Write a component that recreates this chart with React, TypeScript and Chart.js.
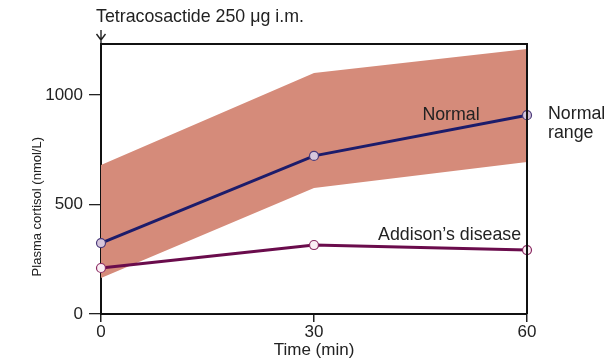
import React, { useEffect, useRef } from "react";
import { Chart, registerables } from "chart.js";

Chart.register(...registerables);

const times = [0, 30, 60];
const normalMean = [324, 722, 908];
const normalUpper = [680, 1100, 1210];
const normalLower = [164, 575, 694];
const addison = [210, 315, 292];
const yTicks = [0, 500, 1000];
const xTicks = [0, 30, 60];

const FONT = "'Liberation Sans', Arial, sans-serif";
const TEXT = "#222";
const FS = 17;
const NOTE_FS = 17.8;

const boxPlugin = {
  id: "boxAndNotes",
  afterDraw(chart: any) {
    const { ctx, chartArea: a, scales } = chart;
    const xs = scales.x;
    const ys = scales.y;
    ctx.save();
    // top & right borders
    ctx.strokeStyle = "#111";
    ctx.lineWidth = 2;
    ctx.beginPath();
    ctx.moveTo(a.left, a.top);
    ctx.lineTo(a.right, a.top);
    ctx.lineTo(a.right, a.bottom);
    ctx.stroke();

    // annotation arrow
    const x0 = xs.getPixelForValue(0);
    ctx.lineWidth = 1.4;
    ctx.strokeStyle = "#222";
    ctx.beginPath();
    ctx.moveTo(x0, a.top - 14);
    ctx.lineTo(x0, a.top - 1);
    ctx.moveTo(x0 - 4.5, a.top - 10);
    ctx.lineTo(x0, a.top - 4);
    ctx.lineTo(x0 + 4.5, a.top - 10);
    ctx.stroke();

    ctx.fillStyle = TEXT;
    ctx.font = `${NOTE_FS}px ${FONT}`;
    ctx.textBaseline = "middle";
    ctx.textAlign = "left";
    ctx.fillText("Tetracosactide 250 \u03bcg i.m.", x0 - 5, a.top - 27);

    ctx.textAlign = "center";
    ctx.fillText("Normal", xs.getPixelForValue(49.3), ys.getPixelForValue(909));
    ctx.fillText("Addison\u2019s disease", xs.getPixelForValue(49.1), ys.getPixelForValue(361));
    ctx.textAlign = "left";
    const rx = xs.getPixelForValue(60) + 21;
    const ry = ys.getPixelForValue(908);
    ctx.fillText("Normal", rx, ry - 1);
    ctx.fillText("range", rx, ry + 18);

    // y-axis title
    ctx.font = `13px ${FONT}`;
    ctx.textAlign = "center";
    ctx.translate(37, ys.getPixelForValue(490));
    ctx.rotate(-Math.PI / 2);
    ctx.fillText("Plasma cortisol (nmol/L)", 0, 0);
    ctx.restore();
  },
};

export default function App() {
  const ref = useRef<HTMLCanvasElement>(null);
  useEffect(() => {
    const chart = new Chart(ref.current!, {
      type: "line",
      data: {
        datasets: [
          {
            label: "upper",
            data: times.map((t, i) => ({ x: t, y: normalUpper[i] })),
            borderWidth: 0,
            pointRadius: 0,
            borderColor: "rgba(0,0,0,0)",
            fill: false,
            order: 3,
          },
          {
            label: "lower",
            data: times.map((t, i) => ({ x: t, y: normalLower[i] })),
            borderWidth: 0,
            pointRadius: 0,
            borderColor: "rgba(0,0,0,0)",
            backgroundColor: "rgb(213,139,122)",
            fill: "-1",
            order: 3,
          },
          {
            label: "Normal",
            data: times.map((t, i) => ({ x: t, y: normalMean[i] })),
            borderColor: "#1c1c6b",
            borderWidth: 3,
            pointRadius: 4.5,
            pointBorderWidth: 1.2,
            pointBackgroundColor: "#d6c6dc",
            pointBorderColor: "#4a3a7a",
            clip: false,
            order: 1,
          },
          {
            label: "Addison's disease",
            data: times.map((t, i) => ({ x: t, y: addison[i] })),
            borderColor: "#6a0c4c",
            borderWidth: 3,
            pointRadius: 4.5,
            pointBorderWidth: 1.2,
            pointBackgroundColor: "#fbeef4",
            pointBorderColor: "#8a2a62",
            clip: false,
            order: 2,
          },
        ],
      },
      options: {
        animation: false,
        responsive: false,
        layout: { padding: { left: 0, top: 44, right: 87, bottom: 0 } },
        plugins: { legend: { display: false }, tooltip: { enabled: false } },
        scales: {
          x: {
            type: "linear",
            min: 0,
            max: 60,
            afterBuildTicks: (s: any) => {
              s.ticks = xTicks.map((v) => ({ value: v }));
            },
            afterFit: (s: any) => {
              s.height = 47;
            },
            grid: { drawOnChartArea: false, drawTicks: true, tickLength: 8, color: "#222", lineWidth: 1.5 },
            border: { display: true, color: "#111", width: 2 },
            ticks: { color: TEXT, font: { family: FONT, size: FS }, padding: 0, maxRotation: 0 },
            title: { display: true, text: "Time (min)", color: TEXT, font: { family: FONT, size: FS }, padding: { top: 0, bottom: 0 } },
          },
          y: {
            type: "linear",
            min: 0,
            max: 1233,
            afterBuildTicks: (s: any) => {
              s.ticks = yTicks.map((v) => ({ value: v }));
            },
            afterFit: (s: any) => {
              s.width = 101;
            },
            grid: { drawOnChartArea: false, drawTicks: true, tickLength: 12, color: "#222", lineWidth: 1.3 },
            border: { display: true, color: "#111", width: 2 },
            ticks: {
              color: TEXT,
              font: { family: FONT, size: FS },
              padding: 6,
              callback: (v: any) => String(v),
            },
            title: { display: false },
          },
        },
      },
      plugins: [boxPlugin],
    } as any);
    return () => chart.destroy();
  }, []);
  return (
    <div style={{ position: "fixed", left: 0, top: 0, width: 614, height: 361, background: "#fff" }}>
      <canvas ref={ref} width={614} height={361} style={{ display: "block" }} />
    </div>
  );
}
